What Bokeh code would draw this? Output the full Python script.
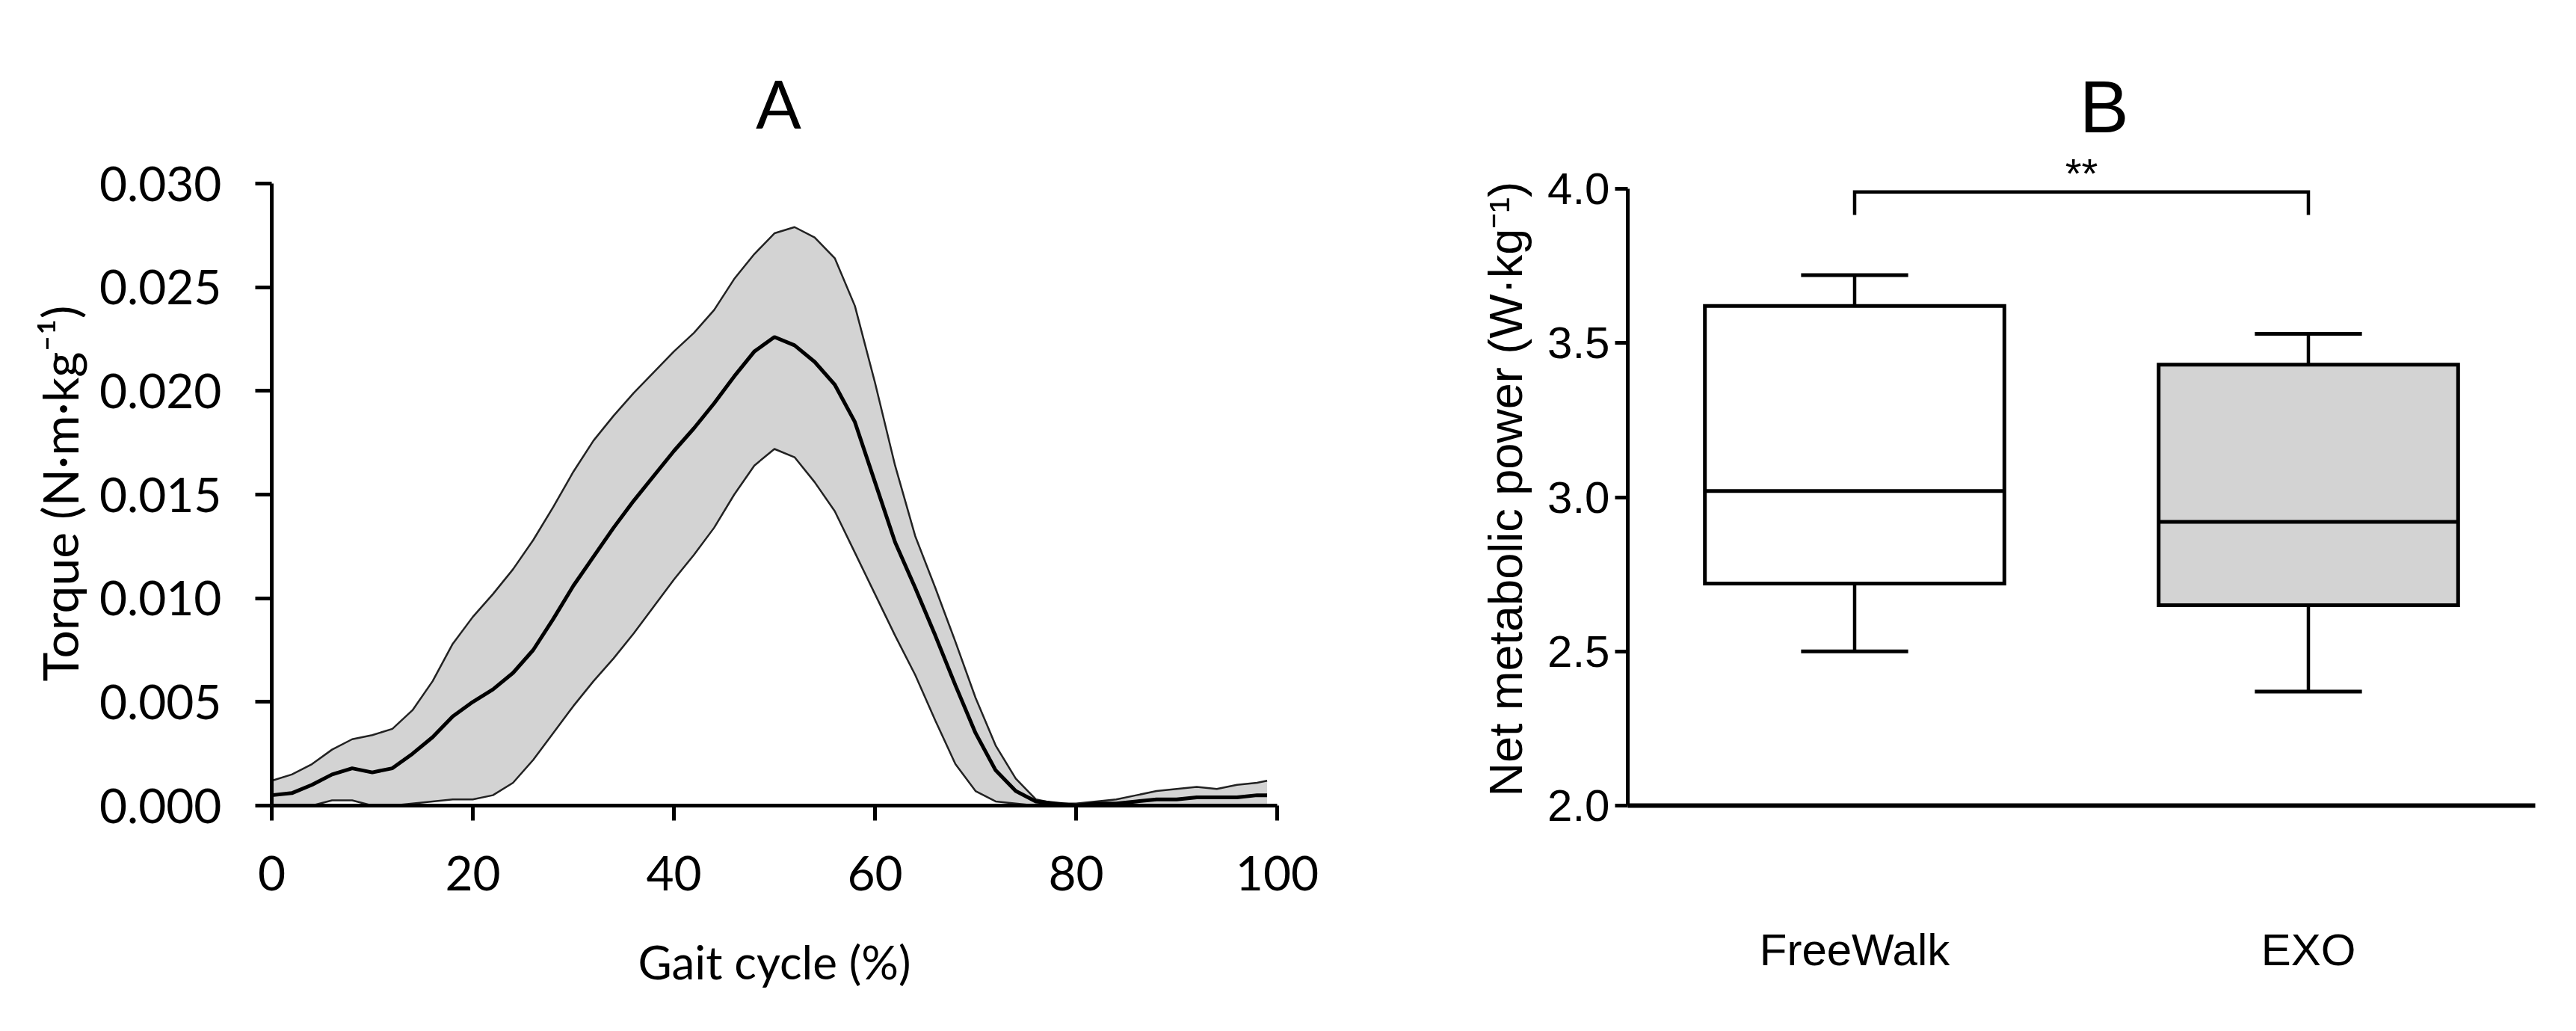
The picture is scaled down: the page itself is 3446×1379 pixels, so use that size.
from bokeh.plotting import figure
from bokeh.layouts import row
from bokeh.models import Range1d, FixedTicker, PrintfTickFormatter, Title
from bokeh.embed import file_html
from bokeh.resources import INLINE
from bokeh.core.properties import value

# ---------------- Panel A data: torque over gait cycle ----------------
gait_cycle = [0, 2, 4, 6, 8, 10, 12, 14, 16, 18, 20, 22, 24, 26, 28, 30, 32, 34, 36, 38,
              40, 42, 44, 46, 48, 50, 52, 54, 56, 58, 60, 62, 64, 66, 68, 70, 72, 74, 76, 78,
              80, 82, 84, 86, 88, 90, 92, 94, 96, 98, 99]
torque_mean = [0.0005, 0.0006, 0.0010, 0.0015, 0.0018, 0.0016, 0.0018, 0.0025, 0.0033, 0.0043,
               0.0050, 0.0056, 0.0064, 0.0075, 0.0090, 0.0106, 0.0120, 0.0134, 0.0147, 0.0159,
               0.0171, 0.0182, 0.0194, 0.0207, 0.0219, 0.0226, 0.0222, 0.0214, 0.0203, 0.0185,
               0.0156, 0.0127, 0.0105, 0.0082, 0.0058, 0.0035, 0.0017, 0.0007, 0.0002, 0.0001,
               0.0000, 0.0001, 0.0001, 0.0002, 0.0003, 0.0003, 0.0004, 0.0004, 0.0004, 0.0005, 0.0005]
torque_upper = [0.0012, 0.0015, 0.0020, 0.0027, 0.0032, 0.0034, 0.0037, 0.0046, 0.0060, 0.0078,
                0.0091, 0.0102, 0.0114, 0.0128, 0.0144, 0.0161, 0.0176, 0.0188, 0.0199, 0.0209,
                0.0219, 0.0228, 0.0239, 0.0254, 0.0266, 0.0276, 0.0279, 0.0274, 0.0264, 0.0241,
                0.0204, 0.0164, 0.0130, 0.0105, 0.0079, 0.0052, 0.0029, 0.0013, 0.0003, 0.0001,
                0.0001, 0.0002, 0.0003, 0.0005, 0.0007, 0.0008, 0.0009, 0.0008, 0.0010, 0.0011, 0.0012]
torque_lower = [0.0000, 0.0000, 0.0000, 0.00025, 0.00025, 0.0000, 0.0000, 0.0001, 0.0002, 0.0003,
                0.0003, 0.0005, 0.0011, 0.0022, 0.0035, 0.0048, 0.0060, 0.0071, 0.0083, 0.0096,
                0.0109, 0.0121, 0.0134, 0.0150, 0.0164, 0.0172, 0.0168, 0.0156, 0.0142, 0.0122,
                0.0102, 0.0082, 0.0063, 0.0041, 0.0020, 0.0007, 0.0002, 0.0001, 0.0000, 0.0000,
                0.0000, 0.0000, 0.0000, 0.0000, 0.0000, 0.0000, 0.0000, 0.0000, 0.0000, 0.0000, 0.0000]
x_ticks_a = [0, 20, 40, 60, 80, 100]
y_ticks_a = [0.000, 0.005, 0.010, 0.015, 0.020, 0.025, 0.030]
title_a = "A"
xlabel_a = "Gait cycle (%)"
ylabel_a = "Torque (N\u00b7m\u00b7kg\u207b\u00b9)"

# ---------------- Panel B data: net metabolic power box plot ----------------
conditions = ["FreeWalk", "EXO"]
whisker_low = [2.50, 2.37]
q1 = [2.72, 2.65]
median = [3.02, 2.92]
q3 = [3.62, 3.43]
whisker_high = [3.72, 3.53]
box_fill = ["white", "#d3d3d3"]
y_ticks_b = [2.0, 2.5, 3.0, 3.5, 4.0]
title_b = "B"
ylabel_b = "Net metabolic power (W\u00b7kg\u207b\u00b9)"
significance = "**"
bracket_y = 3.99
bracket_drop = 0.075

# ---------------- layout constants (pixels) ----------------
H = 1360
FRAME_TOP = 60          # canvas y of frame top
FRAME_BOTTOM = 1077     # canvas y of frame bottom
FRAME_H = FRAME_BOTTOM - FRAME_TOP

FONT_A = "Lato"
FONT_B = "Liberation Sans"

# Panel A: 0.030 sits 832 px above the x axis
ya_end = 0.030 * FRAME_H / 832.0
pa = figure(width=1808, height=H, output_backend="svg", toolbar_location=None,
            x_range=Range1d(0, 100), y_range=Range1d(0, ya_end),
            min_border_left=363, min_border_right=100,
            min_border_top=FRAME_TOP, min_border_bottom=H - FRAME_BOTTOM)
pa.outline_line_color = None
pa.grid.visible = False
pa.background_fill_color = "white"
pa.border_fill_color = "white"

pa.varea(x=gait_cycle, y1=torque_lower, y2=torque_upper, fill_color="#d3d3d3")
pa.line(gait_cycle, torque_upper, line_color="#222222", line_width=2.5)
pa.line(gait_cycle, torque_lower, line_color="#222222", line_width=2.5)
pa.line(gait_cycle, torque_mean, line_color="black", line_width=5)
pa.text(x=[50.4], y=[0.0339], text=[title_a], text_font=value(FONT_A),
        text_font_size="90px", text_align="center", text_baseline="alphabetic", text_color="black")

for ax in (pa.xaxis[0], pa.yaxis[0]):
    ax.axis_line_width = 5
    ax.major_tick_line_width = 5
    ax.major_tick_in = 0
    ax.minor_tick_line_color = None
    ax.major_label_text_font = FONT_A
    ax.major_label_text_font_size = "64px"
    ax.major_label_text_color = "black"
    ax.axis_label_text_font = FONT_A
    ax.axis_label_text_font_size = "62px"
    ax.axis_label_text_font_style = "normal"
    ax.axis_label_text_color = "black"
pa.xaxis[0].ticker = FixedTicker(ticks=x_ticks_a)
pa.xaxis[0].major_tick_out = 20
pa.xaxis[0].major_label_standoff = 47
pa.xaxis[0].axis_label = xlabel_a
pa.xaxis[0].axis_label_standoff = 55
pa.yaxis[0].ticker = FixedTicker(ticks=y_ticks_a)
pa.yaxis[0].formatter = PrintfTickFormatter(format="%.3f")
pa.yaxis[0].bounds = (0, 0.030)
pa.yaxis[0].major_tick_out = 22
pa.yaxis[0].major_label_standoff = 45
# y label placed along the 0 .. 0.030 span (offset measured from frame bottom)
pa.add_layout(Title(text=ylabel_a, align="left", text_font=FONT_A, text_font_size="66px",
                    text_font_style="normal", text_color="black", standoff=22,
                    offset=166), "left")

# Panel B: 4.0 sits 825 px above the x axis (2.0)
yb_end = 2.0 + 2.0 * FRAME_H / 825.0
pb = figure(width=1623, height=H, output_backend="svg", toolbar_location=None,
            x_range=Range1d(0.5, 2.5), y_range=Range1d(2.0, yb_end),
            min_border_left=369, min_border_right=40,
            min_border_top=FRAME_TOP, min_border_bottom=H - FRAME_BOTTOM)
pb.outline_line_color = None
pb.grid.visible = False
pb.background_fill_color = "white"
pb.border_fill_color = "white"

pos = [i + 1 for i in range(len(conditions))]
half_box = 0.33
half_cap = 0.118
pb.segment(x0=pos, y0=q3, x1=pos, y1=whisker_high, line_color="black", line_width=4.5)
pb.segment(x0=pos, y0=q1, x1=pos, y1=whisker_low, line_color="black", line_width=4.5)
pb.segment(x0=[p - half_cap for p in pos], y0=whisker_high, x1=[p + half_cap for p in pos],
           y1=whisker_high, line_color="black", line_width=5)
pb.segment(x0=[p - half_cap for p in pos], y0=whisker_low, x1=[p + half_cap for p in pos],
           y1=whisker_low, line_color="black", line_width=5)
pb.quad(left=[p - half_box for p in pos], right=[p + half_box for p in pos], bottom=q1, top=q3,
        fill_color=box_fill, line_color="black", line_width=5, line_join="miter")
pb.segment(x0=[p - half_box for p in pos], y0=median, x1=[p + half_box for p in pos], y1=median,
           line_color="black", line_width=5)

pb.line(x=[pos[0], pos[0], pos[1], pos[1]],
        y=[bracket_y - bracket_drop, bracket_y, bracket_y, bracket_y - bracket_drop],
        line_color="black", line_width=4.5, line_join="miter")
pb.text(x=[(pos[0] + pos[1]) / 2], y=[4.052], text=[significance], text_font=value(FONT_B),
        text_font_size="56px", text_align="center", text_baseline="alphabetic", text_color="black")
pb.text(x=[1.55], y=[4.267], text=[title_b], text_font=value(FONT_B),
        text_font_size="99px", text_align="center", text_baseline="alphabetic", text_color="black")

for ax in (pb.xaxis[0], pb.yaxis[0]):
    ax.major_tick_in = 0
    ax.minor_tick_line_color = None
    ax.major_label_text_font = FONT_B
    ax.major_label_text_font_size = "60px"
    ax.major_label_text_color = "black"
pb.xaxis[0].axis_line_width = 6
pb.xaxis[0].ticker = FixedTicker(ticks=pos)
pb.xaxis[0].major_label_overrides = {p: c for p, c in zip(pos, conditions)}
pb.xaxis[0].major_tick_out = 0
pb.xaxis[0].major_tick_line_color = None
pb.xaxis[0].major_label_standoff = 159
pb.yaxis[0].axis_line_width = 5
pb.yaxis[0].major_tick_line_width = 5
pb.yaxis[0].ticker = FixedTicker(ticks=y_ticks_b)
pb.yaxis[0].formatter = PrintfTickFormatter(format="%.1f")
pb.yaxis[0].bounds = (2.0, 4.0)
pb.yaxis[0].major_tick_out = 17
pb.yaxis[0].major_label_standoff = 7
pb.add_layout(Title(text=ylabel_b, align="left", text_font=FONT_B, text_font_size="63px",
                    text_font_style="normal", text_color="black", standoff=38,
                    offset=12), "left")

layout = row(pa, pb)
open("out.html", "w").write(file_html(layout, INLINE))
